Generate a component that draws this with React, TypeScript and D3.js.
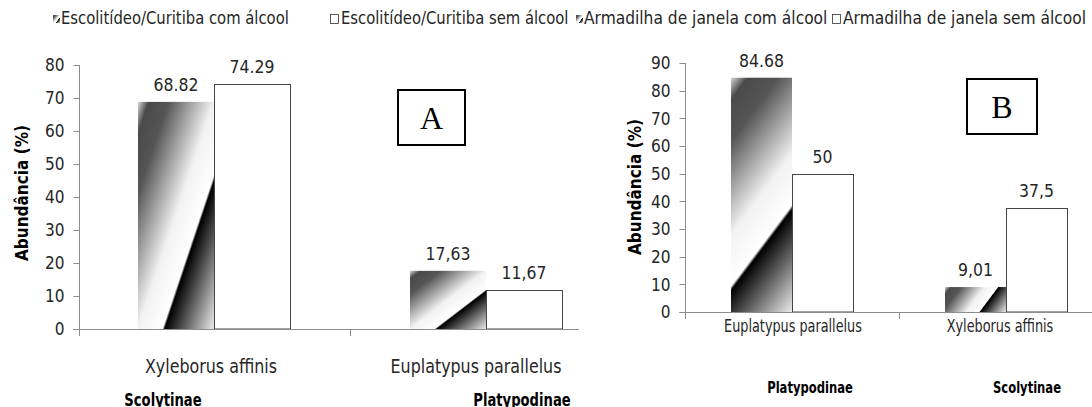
import React from 'react'
import * as d3 from 'd3'

// ---- data ----
const speciesA = ['Xyleborus affinis', 'Euplatypus parallelus']
const subfamiliesA = ['Scolytinae', 'Platypodinae']
const comAlcoolA = [68.82, 17.63]
const semAlcoolA = [74.29, 11.67]
const comLabelsA = ['68.82', '17,63']
const semLabelsA = ['74.29', '11,67']
const legendA = ['Escolitídeo/Curitiba com álcool', 'Escolitídeo/Curitiba sem álcool']
const ticksA = [0, 10, 20, 30, 40, 50, 60, 70, 80]

const speciesB = ['Euplatypus parallelus', 'Xyleborus affinis']
const subfamiliesB = ['Platypodinae', 'Scolytinae']
const comAlcoolB = [84.68, 9.01]
const semAlcoolB = [50, 37.5]
const comLabelsB = ['84.68', '9,01']
const semLabelsB = ['50', '37,5']
const legendB = ['Armadilha de janela com álcool', 'Armadilha de janela sem álcool']
const ticksB = [0, 10, 20, 30, 40, 50, 60, 70, 80, 90]

// gradient look of the "com álcool" bars
const gradStops: [number, string][] = [
    [0, '#d8d8d8'],
    [0.07, '#4a4a4a'],
    [0.2, '#555555'],
    [0.5, '#f2f2f2'],
    [0.66, '#ffffff'],
    [0.675, '#000000'],
    [0.8, '#5a5a5a'],
    [1, '#ececec'],
]

const FONT = "'DejaVu Sans Condensed', 'DejaVu Sans', sans-serif"
const TEXT = '#262626'
const AXIS = '#8c8c8c'

// narrow text (the original uses a Calibri-like face)
const Txt = ({
    x,
    y,
    sx = 0.88,
    size = 18,
    anchor = 'start',
    weight = 'normal',
    fill = TEXT,
    dy,
    children,
}: any) => (
    <text
        transform={`translate(${x},${y}) scale(${sx},1)`}
        dy={dy}
        textAnchor={anchor}
        fontFamily={FONT}
        fontSize={size}
        fontWeight={weight}
        fill={fill}
    >
        {children}
    </text>
)

interface PanelProps {
    id: string
    species: string[]
    subfamilies: string[]
    com: number[]
    sem: number[]
    comLabels: string[]
    semLabels: string[]
    legend: string[]
    ticks: number[]
    yMax: number
    xRange: [number, number]
    yRange: [number, number]
    axisX: number
    axisEnd: number
    barWidth: number
    bboxGradient: boolean
    catY: number
    catSize: number
    catSx: number
    catDx: number[]
    subY: number
    subSize: number
    subSx: number
    subDx: number[]
    titleX: number
    titleY: number
    legendX: number[]
    legendSx: number
    box: { x: number; y: number; w: number; h: number; letter: string }
}

const Panel = (p: PanelProps) => {
    const x = d3.scaleBand().domain(p.species).range(p.xRange)
    const y = d3.scaleLinear().domain([0, p.yMax]).range(p.yRange)
    const y0 = y(0)
    const bw = p.barWidth

    const barGrad = (i: number) =>
        p.bboxGradient ? `url(#${p.id}-grad)` : `url(#${p.id}-grad-${i})`

    return (
        <g>
            <defs>
                <linearGradient id={`${p.id}-grad`} x1="0" y1="0" x2="1" y2="1">
                    {gradStops.map(([o, c], k) => (
                        <stop key={k} offset={o} stopColor={c} />
                    ))}
                </linearGradient>
                {!p.bboxGradient &&
                    p.species.map((s, i) => {
                        const bx = (x(s) as number) + x.bandwidth() / 2 - bw
                        const by = y(p.com[i])
                        const h = y0 - by
                        const L = 0.8 * bw + 0.6 * h
                        return (
                            <linearGradient
                                key={s}
                                id={`${p.id}-grad-${i}`}
                                gradientUnits="userSpaceOnUse"
                                x1={bx}
                                y1={by}
                                x2={bx + 0.8 * L}
                                y2={by + 0.6 * L}
                            >
                                {gradStops.map(([o, c], k) => (
                                    <stop key={k} offset={o} stopColor={c} />
                                ))}
                            </linearGradient>
                        )
                    })}
            </defs>

            {/* legend */}
            <rect x={p.legendX[0] - 8} y={15} width={7} height={8} fill={`url(#${p.id}-grad)`} />
            <Txt x={p.legendX[0]} y={24} size={18.5} sx={p.legendSx}>{p.legend[0]}</Txt>
            <rect x={p.legendX[1] - 10.5} y={14.5} width={8} height={9} fill="#fff" stroke="#333" strokeWidth={0.8} />
            <Txt x={p.legendX[1]} y={24} size={18.5} sx={p.legendSx}>{p.legend[1]}</Txt>

            {/* y axis */}
            <line x1={p.axisX} x2={p.axisX} y1={y(p.yMax)} y2={y0 + 7} stroke={AXIS} />
            {p.ticks.map((t) => (
                <g key={t}>
                    <line
                        x1={p.axisX - 6}
                        x2={p.axisX}
                        y1={Math.round(y(t)) + 0.5}
                        y2={Math.round(y(t)) + 0.5}
                        stroke={AXIS}
                    />
                    <Txt x={p.axisX - 15} y={y(t)} dy="0.36em" anchor="end" size={18} sx={0.95}>
                        {t}
                    </Txt>
                </g>
            ))}

            {/* bars */}
            {p.species.map((s, i) => {
                const cx = (x(s) as number) + x.bandwidth() / 2
                const yc = y(p.com[i])
                const ys = y(p.sem[i])
                return (
                    <g key={s}>
                        <rect x={cx - bw} y={yc} width={bw} height={y0 - yc} fill={barGrad(i)} />
                        <rect
                            x={cx + 0.5}
                            y={Math.round(ys) + 0.5}
                            width={bw}
                            height={y0 - Math.round(ys) - 0.5}
                            fill="#fff"
                            stroke="#444"
                            strokeWidth={1}
                        />
                        <Txt x={cx - bw / 2} y={yc - 11} anchor="middle" size={18} sx={0.97}>
                            {p.comLabels[i]}
                        </Txt>
                        <Txt x={cx + bw / 2} y={ys - 11} anchor="middle" size={18} sx={0.97}>
                            {p.semLabels[i]}
                        </Txt>
                        <Txt x={cx + p.catDx[i]} y={p.catY} anchor="middle" size={p.catSize} sx={p.catSx}>
                            {s}
                        </Txt>
                        <Txt
                            x={cx + p.subDx[i]}
                            y={p.subY}
                            anchor="middle"
                            size={p.subSize}
                            sx={p.subSx}
                            weight="bold"
                            fill="#000"
                        >
                            {p.subfamilies[i]}
                        </Txt>
                    </g>
                )
            })}

            {/* x axis */}
            <line
                x1={p.axisX - 6}
                x2={p.axisEnd}
                y1={Math.round(y0) + 0.5}
                y2={Math.round(y0) + 0.5}
                stroke={AXIS}
            />
            {p.species.slice(1).map((s) => (
                <line
                    key={s}
                    x1={(x(s) as number) + 0.5}
                    x2={(x(s) as number) + 0.5}
                    y1={y0}
                    y2={y0 + 7}
                    stroke={AXIS}
                />
            ))}

            {/* axis title */}
            <text
                transform={`translate(${p.titleX},${p.titleY}) rotate(-90)`}
                textAnchor="middle"
                fontFamily={FONT}
                fontSize={17}
                fontWeight="bold"
                fill="#000"
            >
                Abundância (%)
            </text>

            {/* panel letter */}
            <rect x={p.box.x} y={p.box.y} width={p.box.w} height={p.box.h} fill="#fff" stroke="#000" strokeWidth={2} />
            <text
                x={p.box.x + p.box.w / 2}
                y={p.box.y + p.box.h / 2}
                dy="0.35em"
                textAnchor="middle"
                fontFamily="'Liberation Serif', 'DejaVu Serif', serif"
                fontSize={32}
                fill="#000"
            >
                {p.box.letter}
            </text>
        </g>
    )
}

export default function App() {
    return (
        <svg width={1092} height={407} style={{ position: 'absolute', left: 0, top: 0, background: '#fff' }}>
            <rect width={1092} height={407} fill="#fff" />
            <Panel
                id="pa"
                species={speciesA}
                subfamilies={subfamiliesA}
                com={comAlcoolA}
                sem={semAlcoolA}
                comLabels={comLabelsA}
                semLabels={semLabelsA}
                legend={legendA}
                ticks={ticksA}
                yMax={80}
                xRange={[78, 622]}
                yRange={[329, 65]}
                axisX={79.5}
                axisEnd={579}
                barWidth={76}
                bboxGradient={true}
                catY={373}
                catSize={19}
                catSx={0.93}
                catDx={[-3, -10]}
                subY={406}
                subSize={17}
                subSx={0.86}
                subDx={[-51, 36]}
                titleX={28}
                titleY={193}
                legendX={[61, 341]}
                legendSx={0.89}
                box={{ x: 398, y: 90, w: 67, h: 55, letter: 'A' }}
            />
            <Panel
                id="pb"
                species={speciesB}
                subfamilies={subfamiliesB}
                com={comAlcoolB}
                sem={semAlcoolB}
                comLabels={comLabelsB}
                semLabels={semLabelsB}
                legend={legendB}
                ticks={ticksB}
                yMax={90}
                xRange={[685, 1113]}
                yRange={[312, 63]}
                axisX={685.5}
                axisEnd={1092}
                barWidth={61}
                bboxGradient={false}
                catY={332}
                catSize={18.5}
                catSx={0.77}
                catDx={[1, -6]}
                subY={393}
                subSize={16.5}
                subSx={0.78}
                subDx={[18, 21]}
                titleX={641}
                titleY={187}
                legendX={[584, 843]}
                legendSx={0.93}
                box={{ x: 967, y: 79, w: 70, h: 55, letter: 'B' }}
            />
        </svg>
    )
}
